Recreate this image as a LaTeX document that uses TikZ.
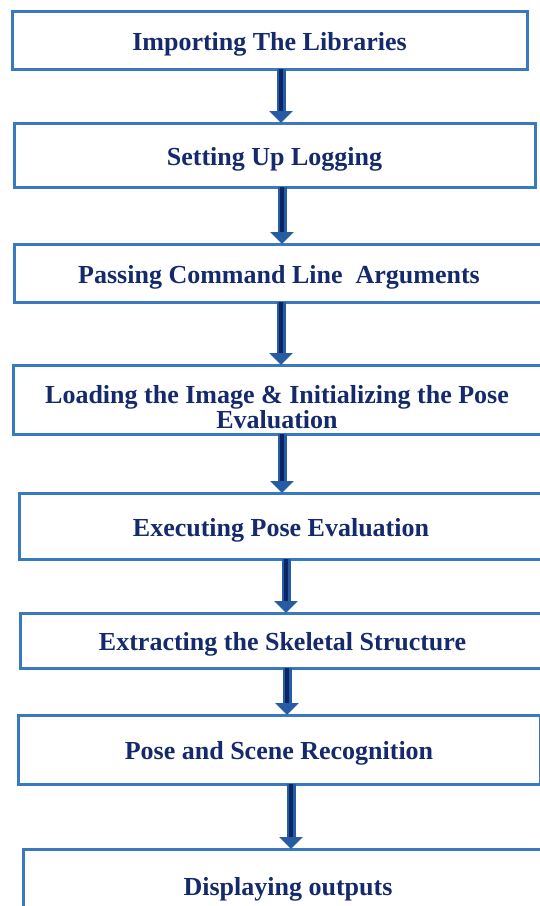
\documentclass[tikz,border=0pt]{standalone}
\usepackage{fontspec}
\setmainfont{Liberation Serif}
\usetikzlibrary{arrows.meta}
\definecolor{boxblue}{RGB}{55,122,192}
\definecolor{txtblue}{RGB}{20,42,108}
\definecolor{arrdark}{RGB}{10,38,102}
\definecolor{arrmid}{RGB}{40,92,162}
\begin{document}
\begin{tikzpicture}[x=1pt,y=-1pt,
  stepbox/.style={draw=boxblue, line width=3pt, fill=white, outer sep=0pt, inner sep=0pt,
    font=\fontsize{26}{25.5}\selectfont\bfseries, text=txtblue, align=center},
  oneline/.style={text height=20pt, text depth=0pt},
  twoline/.style={text height=58pt, text depth=0pt},
  flow/.style={draw=arrmid, line width=9pt, -{Triangle[width=23pt,length=12pt]}},
  flowcore/.style={draw=arrdark, line width=4.5pt, shorten >=12pt}]
\useasboundingbox (0,0) rectangle (539,906);

\node[stepbox, oneline, minimum width=515pt, minimum height=58pt] (n1) at (269.5,40) {Importing The Libraries};
\node[stepbox, oneline, minimum width=521pt, minimum height=64pt] (n2) at (274.5,155) {Setting Up Logging};
\node[stepbox, oneline, minimum width=530pt, minimum height=58pt] (n3) at (279,273) {Passing Command Line\ \ Arguments};
\node[stepbox, twoline, minimum width=528pt, minimum height=69pt] (n4) at (277,399.5) {Loading the Image \& Initializing the Pose\\Evaluation};
\node[stepbox, oneline, minimum width=524pt, minimum height=66pt] (n5) at (281,526) {Executing Pose Evaluation};
\node[stepbox, oneline, minimum width=525pt, minimum height=55pt] (n6) at (282.5,640.5) {Extracting the Skeletal Structure};
\node[stepbox, oneline, minimum width=522pt, minimum height=69pt] (n7) at (279,749.5) {Pose and Scene Recognition};
\node[stepbox, oneline, minimum width=530pt, minimum height=72pt] (n8) at (288,885) {Displaying outputs};

\coordinate (c1) at (281,0);
\coordinate (c2) at (282,0);
\coordinate (c3) at (281,0);
\coordinate (c4) at (282,0);
\coordinate (c5) at (286,0);
\coordinate (c6) at (287,0);
\coordinate (c7) at (291,0);

\foreach \a/\b/\c in {n1/n2/c1, n2/n3/c2, n3/n4/c3, n4/n5/c4, n5/n6/c5, n6/n7/c6, n7/n8/c7}{
  \draw[flow] (\a.south -| \c) -- (\b.north -| \c);
  \draw[flowcore] (\a.south -| \c) -- (\b.north -| \c);
}
\end{tikzpicture}
\end{document}
